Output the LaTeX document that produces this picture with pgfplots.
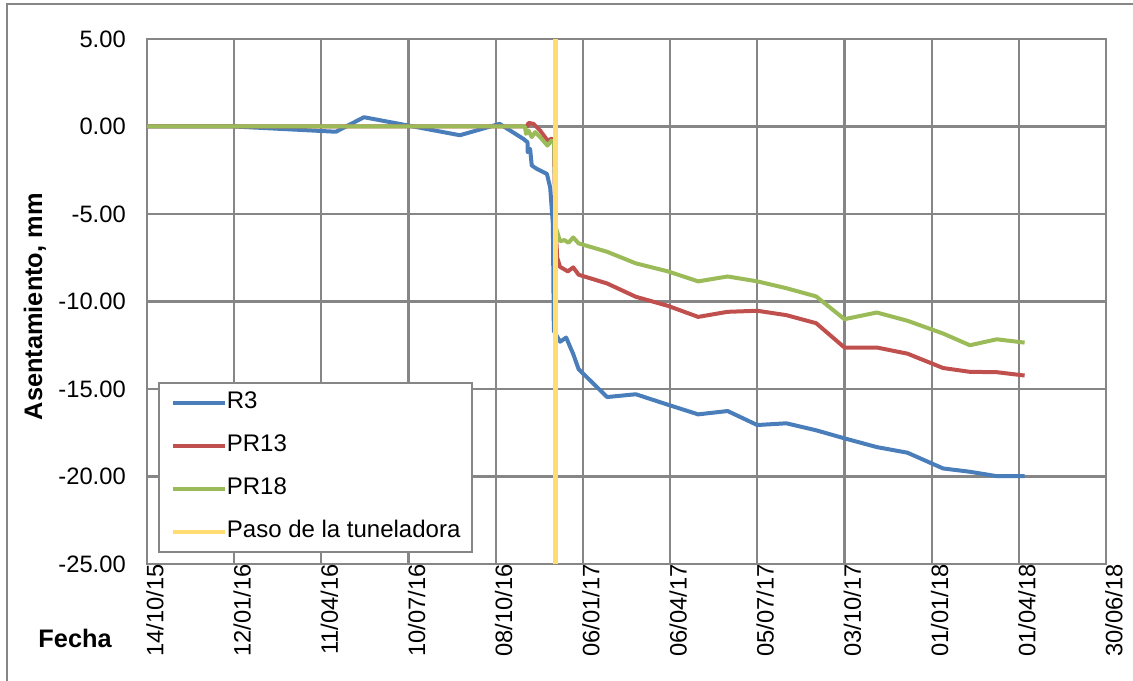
\documentclass[border=0pt]{standalone}
\usepackage{pgfplots}
\pgfplotsset{compat=1.18}
\usepackage{fontspec}
\setmainfont{Liberation Sans}
\definecolor{cblue}{HTML}{4A7EBB}
\definecolor{cred}{HTML}{C0504D}
\definecolor{cgreen}{HTML}{9BBB59}
\definecolor{cyellow}{HTML}{FFDD73}
\definecolor{cgrid}{HTML}{868686}
\begin{document}
\begin{tikzpicture}
\useasboundingbox (-110.25pt,-87.75pt) rectangle (739.5pt,423pt);
\draw[cgrid,line width=1.3pt] (-105pt,-90pt) -- (-105pt,420pt) -- (742pt,420pt);
\begin{axis}[
  scale only axis,
  width=719.25pt, height=393.75pt,
  xmin=0, xmax=990, ymin=-25, ymax=5,
  xtick={0,90,...,990},
  xticklabels={14/10/15,12/01/16,11/04/16,10/07/16,08/10/16,06/01/17,06/04/17,05/07/17,03/10/17,01/01/18,01/04/18,30/06/18},
  ytick={-25,-20,...,5},
  yticklabels={-25.00,-20.00,-15.00,-10.00,-5.00,0.00,5.00},
  major tick length=0pt,
  grid=major,
  grid style={cgrid,line width=1.6pt},
  axis line style={cgrid,line width=1.6pt},
  tick label style={font=\fontsize{17.8}{21}\selectfont, text=black},
  xticklabel style={rotate=90, anchor=east, inner sep=0pt, yshift=-6pt},
  yticklabel style={anchor=east, inner sep=0pt, xshift=-15.75pt},
  xlabel={Fecha},
  ylabel={Asentamiento, mm},
  label style={font=\fontsize{19}{23}\selectfont\bfseries},
  xlabel style={at={(axis description cs:-0.075,-0.141)}, anchor=center},
  ylabel style={at={(axis description cs:-0.1168,0.49)}, anchor=center},
  legend style={at={(axis description cs:0.0118,0.0215)}, anchor=south west,
    draw=cgrid, line width=1.3pt, inner xsep=8.8pt, inner ysep=7pt,
    font=\fontsize{18}{21}\selectfont, row sep=16.25pt,
    nodes={inner sep=0pt, anchor=west, text height=12.5pt, text depth=3.5pt}},
  legend cell align=left,
  legend image code/.code={\draw[#1,line width=3pt] (0pt,0pt) -- (39pt,0pt);},
  every axis plot/.append style={line width=3pt, line join=round, no markers},
]
\addplot[cblue] coordinates {
(0,0) (90,0) (195,-0.3) (224,0.53) (323,-0.5) (364,0.15) (388.6,-0.71) (392.8,-0.9)
(393,-1.47) (395.5,-1.28) (397.2,-2.23) (402.4,-2.42) (412.8,-2.71) (416.2,-3.47)
(419,-5.57) (420,-11.68) (426.5,-12.3) (432.7,-12.06) (440,-13.0) (445.6,-13.87)
(475,-15.46) (504.6,-15.3) (537.8,-15.9) (569,-16.45) (599.4,-16.26) (630,-17.06)
(660,-16.96) (690.8,-17.36) (720,-17.82) (753.4,-18.32) (785,-18.64) (821.8,-19.54)
(849.5,-19.73) (877.2,-19.98) (906,-19.98)};
\addlegendentry{R3}
\addplot[cred] coordinates {
(0,0) (392.8,0) (393.5,0.19) (395.5,0.19) (399,0.15) (405.9,-0.23) (413.4,-0.8)
(417.9,-0.7) (420.3,-0.8) (421.5,-5.5) (423.5,-7.5) (426.4,-8.02) (434.5,-8.28)
(440,-8.05) (445.6,-8.47) (475,-8.97) (504.6,-9.73) (537.8,-10.25) (569,-10.88)
(599.4,-10.59) (630,-10.53) (660,-10.78) (690.8,-11.24) (720,-12.63) (753.4,-12.63)
(785,-12.98) (821.8,-13.8) (849.5,-14.02) (877.2,-14.04) (906,-14.23)};
\addlegendentry{PR13}
\addplot[cgreen] coordinates {
(0,0) (390,0) (391.4,-0.42) (393.8,-0.23) (397.2,-0.61) (400.7,-0.32) (405.9,-0.61)
(413.4,-1.09) (417.9,-0.8) (420.3,-0.9) (422,-5.76) (426.4,-6.56) (430.8,-6.49)
(435.2,-6.64) (440,-6.34) (445.6,-6.68) (475,-7.16) (504.6,-7.82) (537.8,-8.28)
(569,-8.85) (599.4,-8.57) (630,-8.85) (660,-9.24) (690.8,-9.71) (720,-11.01)
(753.4,-10.63) (785,-11.1) (821.8,-11.83) (849.5,-12.5) (877.2,-12.16) (906,-12.35)};
\addlegendentry{PR18}
\addplot[cyellow, line width=3.5pt] coordinates {(422,-25) (422,5)};
\addlegendentry{Paso de la tuneladora}
\end{axis}
\end{tikzpicture}
\end{document}
